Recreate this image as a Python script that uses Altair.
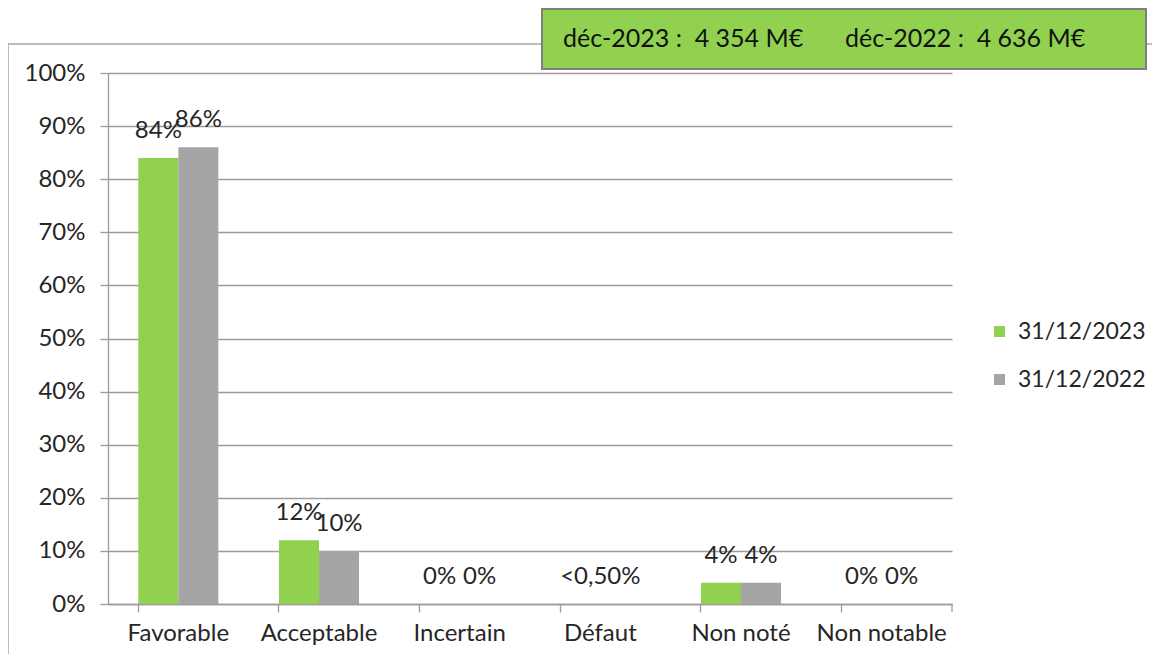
import altair as alt
import pandas as pd

categories = ["Favorable", "Acceptable", "Incertain", "Défaut", "Non noté", "Non notable"]
series = ["31/12/2023", "31/12/2022"]
values_2023 = [0.84, 0.12, 0.0, 0.0, 0.04, 0.0]
values_2022 = [0.86, 0.10, 0.0, 0.0, 0.04, 0.0]
labels_2023 = ["84%", "12%", "0%", "", "4%", "0%"]
labels_2022 = ["86%", "10%", "0%", "", "4%", "0%"]
note_categories = ["Défaut"]
note_labels = ["<0,50%"]
header_texts = ["déc-2023 :\u00a0\u00a04\u00a0354 M€", "déc-2022 :\u00a0\u00a04\u00a0636 M€"]
colors = ["#92D050", "#A5A5A5"]

rows = []
for s, vals, labs in [(series[0], values_2023, labels_2023), (series[1], values_2022, labels_2022)]:
    for c, v, l in zip(categories, vals, labs):
        rows.append({"cat": c, "series": s, "value": v, "label": l})
df = pd.DataFrame(rows)
notes = pd.DataFrame({"cat": note_categories, "label": note_labels, "value": [0.0] * len(note_labels)})

FONT = "Lato"
FS = 24
TXT = "#262626"
GRID = "#9C9C9C"
W, H = 844, 531

xscale = alt.Scale(domain=categories, paddingInner=0.431, paddingOuter=0.2155)
yscale = alt.Scale(domain=[0, 1])
offscale = alt.Scale(domain=series, paddingInner=0, paddingOuter=0)

base = alt.Chart(df)

bars = base.mark_bar().encode(
    x=alt.X("cat:N", scale=xscale, sort=categories, title=None,
            axis=alt.Axis(labelAngle=0, labelFontSize=FS, labelFont=FONT, labelColor=TXT,
                          bandPosition=0, tickSize=8, tickColor=GRID, domainColor=GRID,
                          tickWidth=1.3, domainWidth=1.3, labelPadding=9, grid=False)),
    xOffset=alt.XOffset("series:N", sort=series, scale=offscale),
    y=alt.Y("value:Q", scale=yscale, title=None,
            axis=alt.Axis(format=".0%", values=[i / 10 for i in range(11)], labelFontSize=FS,
                          labelFont=FONT, labelColor=TXT, tickSize=8, tickColor=GRID,
                          tickWidth=1.3, domainWidth=1.3,
                          domainColor=GRID, gridColor=GRID, gridWidth=1.3, labelPadding=15)),
    color=alt.Color("series:N", sort=series, scale=alt.Scale(domain=series, range=colors),
                    legend=alt.Legend(title=None, orient="none", legendX=880, legendY=247,
                                      symbolType="square", symbolSize=121, symbolStrokeWidth=0,
                                      labelFont=FONT, labelFontSize=23, labelColor=TXT,
                                      rowPadding=24, labelOffset=7, padding=0)),
)

texts = base.mark_text(font=FONT, fontSize=FS, color=TXT, baseline="middle", dy=-27).encode(
    x=alt.X("cat:N", scale=xscale, sort=categories),
    xOffset=alt.XOffset("series:N", sort=series, scale=offscale),
    y=alt.Y("value:Q", scale=yscale),
    text="label:N",
)

note_text = alt.Chart(notes).mark_text(font=FONT, fontSize=FS, color=TXT, baseline="middle", dy=-27).encode(
    x=alt.X("cat:N", scale=xscale, sort=categories),
    y=alt.Y("value:Q", scale=yscale),
    text="label:N",
)

dummy = pd.DataFrame({"k": [0]})
border_top = alt.Chart(dummy).mark_rule(color="#A6A6A6", strokeWidth=1.5).encode(
    x=alt.value(-100), x2=alt.value(1045), y=alt.value(-29))
border_left = alt.Chart(dummy).mark_rule(color="#A6A6A6", strokeWidth=1.5).encode(
    x=alt.value(-100), y=alt.value(-29), y2=alt.value(H + 60))
end_tick = alt.Chart(dummy).mark_rect(color=GRID).encode(
    x=alt.value(W - 0.65), x2=alt.value(W + 0.65), y=alt.value(H), y2=alt.value(H + 8))

box = alt.Chart(dummy).mark_rect(fill="#92D050", stroke="#7F7F7F", strokeWidth=2).encode(
    x=alt.value(434), x2=alt.value(1038), y=alt.value(-64), y2=alt.value(-4))

hdr = pd.DataFrame({"t": header_texts, "i": list(range(len(header_texts)))})
header = alt.Chart(hdr).transform_calculate(px="455 + datum.i * 282").mark_text(
    font=FONT, fontSize=25, color="#111111", align="left", baseline="middle").encode(
    x=alt.X("px:Q", scale=None), y=alt.value(-34), text="t:N")

chart = alt.layer(border_top, border_left, bars, texts, note_text, end_tick, box, header).properties(
    width=W, height=H,
    background="white",
    autosize=alt.AutoSizeParams(type="none"),
    padding={"left": 100, "top": 65, "right": 200, "bottom": 50},
).configure_view(stroke="transparent", strokeWidth=0)

chart.save("out.html", embed_options={"renderer": "svg", "actions": False})
